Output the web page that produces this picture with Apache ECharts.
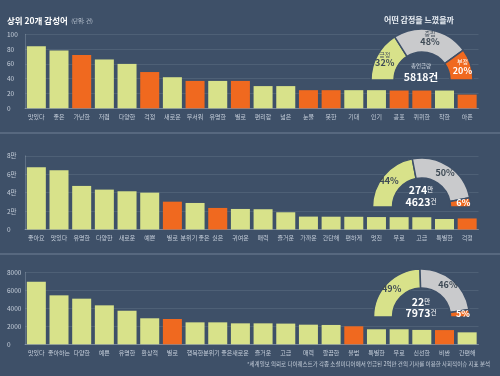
<!DOCTYPE html>
<html><head><meta charset="utf-8">
<script src="https://cdn.jsdelivr.net/npm/echarts@6/dist/echarts.min.js"></script>
<style>html,body{margin:0;padding:0;background:#3e5068;}#c{width:500px;height:376px;}</style>
</head><body><div id="c"></div>
<script>
// ---- Panel 1 ----
const cats1 = ['맛있다','좋은','가난한','저렴','다양한','걱정','새로운','무서워','유명한','별로','편리함','넓은','눈물','못한','기대','인기','공포','퀴퀴한','착한','아픈'];
const vals1 = [84,78,72,66,60,49,42,37,37,37,30,30,24.5,24.5,24.5,24.5,24,24,24,18.5];
const tone1 = ['p','p','n','p','p','n','p','n','p','n','p','p','n','n','p','p','n','n','p','n'];
const ticks1 = [0,20,40,60,80,100];
const share1 = [32,48,20];
const shareNames1 = ['긍정','중립','부정'];
// ---- Panel 2 (단위: 만) ----
const cats2 = ['좋아요','맛있다','유명한','다양한','새로운','예쁜','별로','분위기 좋은','싫은','귀여운','매력','즐거운','가까운','간단해','편하게','멋진','무료','고급','특별한','걱정'];
const vals2 = [6.76,6.43,4.73,4.33,4.15,4.0,3.02,2.88,2.34,2.23,2.2,1.87,1.4,1.39,1.38,1.35,1.34,1.33,1.14,1.2];
const tone2 = ['p','p','p','p','p','p','n','p','n','p','p','p','p','p','p','p','p','p','p','n'];
const ticks2 = [0,2,4,6,8];
const share2 = [44,50,6];
// ---- Panel 3 ----
const cats3 = ['맛있다','좋아하는','다양한','예쁜','유명한','환상적','별로','행복한','분위기 좋은','새로운','즐거운','고급','매력','깔끔한','불법','특별한','무료','신선한','비싼','간편해'];
const vals3 = [6950,5440,5070,4330,3730,2890,2810,2440,2440,2330,2330,2300,2180,2150,2000,1670,1670,1600,1580,1330];
const tone3 = ['p','p','p','p','p','p','n','p','p','p','p','p','p','p','n','p','p','p','n','p'];
const ticks3 = [0,2000,4000,6000,8000];
const share3 = [49,46,5];

const GREEN = '#d8e28a', ORANGE = '#f0691f', GRAY = '#c9cacc';
const shareColors = [GREEN, GRAY, ORANGE];
const FONT = 'Noto Sans CJK KR';

const grids = [
  {left:25, right:21.5, top:34.3, height:74},
  {left:25, right:21.5, top:155.8, height:73.7},
  {left:25, right:21.5, top:272.3, height:72}
];
function xAx(i, cats){
  return {gridIndex:i, type:'category', data:cats,
    axisLine:{show:true, lineStyle:{color:'rgba(200,210,225,0.35)'}}, axisTick:{show:false},
    axisLabel:{interval:0, color:'#c5ceda', fontSize:6, margin:5, fontFamily:FONT}};
}
function yAx(i, ticks, fmt){
  return {gridIndex:i, type:'value', min:ticks[0], max:ticks[ticks.length-1], interval:ticks[1]-ticks[0],
    axisLine:{show:true, lineStyle:{color:'rgba(200,210,225,0.25)'}}, axisTick:{show:false},
    splitLine:{show:true, lineStyle:{color:'rgba(200,210,225,0.12)'}},
    axisLabel:{align:'left', margin:18, color:'#c5ceda', fontSize:6.5, fontFamily:FONT, formatter:fmt}};
}
function barS(i, vals, tone){
  return {type:'bar', xAxisIndex:i, yAxisIndex:i, data:vals, barWidth:19,
    itemStyle:{color:(p)=> tone[p.dataIndex]==='n'?ORANGE:GREEN}};
}
function pieS(center, radius, share, names){
  const total = share.reduce((a,b)=>a+b,0);
  const data = share.map((v,k)=>({
    value:v, name:(names?names[k]:'s'+k),
    itemStyle:{color:shareColors[k], borderColor:'#3e5068', borderWidth:1.5},
    label:{show:true, position:'inside',
      formatter: names ? ('{n|'+names[k]+'}\n{p|'+v+'%}') : ('{p|'+v+'%}'),
      rich:{
        n:{fontSize:6, color:k===2?'#fff':'#4a5560', fontFamily:FONT, lineHeight:7},
        p:{fontSize:names?9:9, fontWeight:'bold', color:k===2?'#fff':'#3e4a55', fontFamily:FONT, lineHeight:10}
      }}
  }));
  data.push({value:total, name:'blank', itemStyle:{color:'rgba(0,0,0,0)', borderWidth:0}, label:{show:false}, emphasis:{disabled:true}});
  return {type:'pie', center:center, radius:radius, startAngle:180, clockwise:true, silent:true,
    labelLine:{show:false}, data:data};
}

const chart = echarts.init(document.getElementById('c'), null, {renderer:'canvas'});
chart.setOption({
  backgroundColor:'#3e5068',
  animation:false,
  grid:grids,
  xAxis:[xAx(0,cats1), xAx(1,cats2), xAx(2,cats3)],
  yAxis:[yAx(0,ticks1,v=>String(v)), yAx(1,ticks2,v=>v===0?'0':v+'만'), yAx(2,ticks3,v=>String(v))],
  series:[
    barS(0,vals1,tone1), barS(1,vals2,tone2), barS(2,vals3,tone3),
    pieS([422,80],[28,51],share1,shareNames1),
    pieS([421.5,207],[29,49],share2,null),
    pieS([421.5,317],[29,48],share3,null)
  ],
  graphic:[
    {type:'line', shape:{x1:0,y1:133,x2:500,y2:133}, style:{stroke:'rgba(210,220,235,0.35)', lineWidth:1}},
    {type:'line', shape:{x1:0,y1:254,x2:500,y2:254}, style:{stroke:'rgba(210,220,235,0.35)', lineWidth:1}},
    {type:'text', left:7, top:15, style:{text:'{t|상위 20개 감성어} {u|(단위: 건)}', rich:{
      t:{fontSize:8.5, fontWeight:'bold', fill:'#ffffff', fontFamily:FONT},
      u:{fontSize:5.5, fill:'#c5ceda', fontFamily:FONT}}}},
    {type:'text', x:419, y:20, style:{text:'어떤 감정을 느꼈을까', textAlign:'center', textVerticalAlign:'middle', fontSize:8, fontWeight:'bold', fill:'#e8edf3', fontFamily:FONT}},
    {type:'text', x:421, y:66, style:{text:'총언급량', textAlign:'center', textVerticalAlign:'middle', fontSize:5.5, fill:'#d5dce6', fontFamily:FONT}},
    {type:'text', x:421, y:77, style:{text:'5818건', textAlign:'center', textVerticalAlign:'middle', fontSize:10.5, fontWeight:'bold', fill:'#ffffff', fontFamily:FONT}},
    {type:'text', x:421, y:190, style:{text:'{a|274}{u|만}', textAlign:'center', textVerticalAlign:'middle', rich:{a:{fontSize:10.5,fontWeight:'bold',fill:'#fff',fontFamily:FONT},u:{fontSize:6.5,fill:'#fff',fontFamily:FONT}}}},
    {type:'text', x:421, y:202, style:{text:'{a|4623}{u|건}', textAlign:'center', textVerticalAlign:'middle', rich:{a:{fontSize:10.5,fontWeight:'bold',fill:'#fff',fontFamily:FONT},u:{fontSize:6.5,fill:'#fff',fontFamily:FONT}}}},
    {type:'text', x:421, y:302, style:{text:'{a|22}{u|만}', textAlign:'center', textVerticalAlign:'middle', rich:{a:{fontSize:10.5,fontWeight:'bold',fill:'#fff',fontFamily:FONT},u:{fontSize:6.5,fill:'#fff',fontFamily:FONT}}}},
    {type:'text', x:421, y:313, style:{text:'{a|7973}{u|건}', textAlign:'center', textVerticalAlign:'middle', rich:{a:{fontSize:10.5,fontWeight:'bold',fill:'#fff',fontFamily:FONT},u:{fontSize:6.5,fill:'#fff',fontFamily:FONT}}}},
    {type:'text', right:10, top:361, style:{text:'*세계일보 의뢰로 다이퀘스트가 각종 소셜미디어에서 언급된 2억만 건의 기사를 이용한 사회적이슈 지표 분석', fontSize:5.5, fill:'#c5ceda', fontFamily:FONT}}
  ]
});
</script>
</body></html>
